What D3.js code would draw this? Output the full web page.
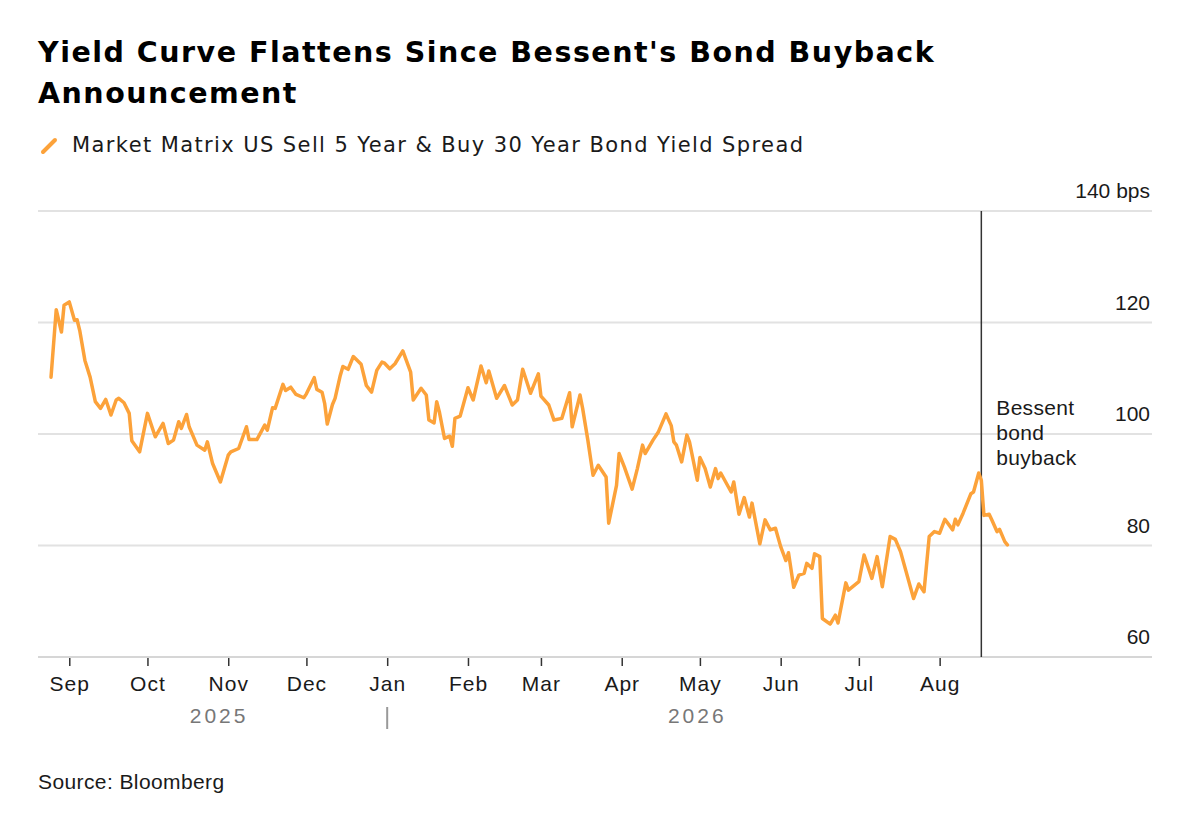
<!DOCTYPE html>
<html>
<head>
<meta charset="utf-8">
<script src="https://cdn.jsdelivr.net/npm/d3@7"></script>
<style>
  html, body { margin: 0; padding: 0; background: #fff; }
  #chart { width: 1200px; height: 818px; }
  text { font-family: "Liberation Sans", Arial, sans-serif; fill: #1a1a1a; }
</style>
</head>
<body>
<div id="chart"></div>
<script>
// Spread between 5y and 30y (bps)
const dates = [
  "2025-08-25","2025-08-27","2025-08-29","2025-08-30","2025-09-01","2025-09-03","2025-09-04","2025-09-05","2025-09-07","2025-09-09",
  "2025-09-11","2025-09-13","2025-09-15","2025-09-17","2025-09-19","2025-09-20","2025-09-22","2025-09-24","2025-09-25","2025-09-28",
  "2025-10-01","2025-10-04","2025-10-07","2025-10-09","2025-10-11","2025-10-13","2025-10-14","2025-10-16","2025-10-17","2025-10-20",
  "2025-10-23","2025-10-24","2025-10-26","2025-10-29",
  "2025-11-01","2025-11-02","2025-11-05","2025-11-08","2025-11-09","2025-11-12","2025-11-15","2025-11-16","2025-11-18","2025-11-19",
  "2025-11-22","2025-11-23","2025-11-25","2025-11-27","2025-11-30",
  "2025-12-01","2025-12-04","2025-12-05","2025-12-07","2025-12-08","2025-12-09","2025-12-11","2025-12-12","2025-12-14","2025-12-15",
  "2025-12-17","2025-12-19","2025-12-22","2025-12-24","2025-12-26","2025-12-28","2025-12-30","2025-12-31",
  "2026-01-02","2026-01-04","2026-01-07","2026-01-10","2026-01-11","2026-01-14","2026-01-16","2026-01-17","2026-01-19","2026-01-20",
  "2026-01-21","2026-01-23","2026-01-25","2026-01-26","2026-01-27","2026-01-29",
  "2026-02-01","2026-02-03","2026-02-06","2026-02-08","2026-02-09","2026-02-12","2026-02-15","2026-02-18","2026-02-20","2026-02-22",
  "2026-02-25","2026-02-28",
  "2026-03-01","2026-03-04","2026-03-06","2026-03-09","2026-03-12","2026-03-13","2026-03-16","2026-03-17","2026-03-19","2026-03-21",
  "2026-03-23","2026-03-26","2026-03-27","2026-03-30","2026-03-31",
  "2026-04-02","2026-04-05","2026-04-07","2026-04-09","2026-04-10","2026-04-13","2026-04-15","2026-04-18","2026-04-20","2026-04-21",
  "2026-04-22","2026-04-24","2026-04-26","2026-04-27","2026-04-30",
  "2026-05-01","2026-05-03","2026-05-05","2026-05-07","2026-05-08","2026-05-09","2026-05-13","2026-05-14","2026-05-16","2026-05-18",
  "2026-05-20","2026-05-21","2026-05-24","2026-05-26","2026-05-28","2026-05-30",
  "2026-06-01","2026-06-03","2026-06-04","2026-06-06","2026-06-08","2026-06-10","2026-06-11","2026-06-13","2026-06-14","2026-06-16",
  "2026-06-17","2026-06-20","2026-06-22","2026-06-23","2026-06-26","2026-06-27",
  "2026-07-01","2026-07-03","2026-07-06","2026-07-08","2026-07-10","2026-07-13","2026-07-15","2026-07-17","2026-07-22","2026-07-24",
  "2026-07-26","2026-07-28","2026-07-30",
  "2026-08-01","2026-08-03","2026-08-06","2026-08-07","2026-08-08","2026-08-10","2026-08-13","2026-08-14","2026-08-16","2026-08-17",
  "2026-08-18","2026-08-20","2026-08-21","2026-08-23","2026-08-24","2026-08-26","2026-08-27"
];

const spread = [
  110.2,122.3,118.3,123.1,123.7,120.4,120.5,118.6,113.2,110.2,
  105.8,104.6,106.2,103.4,106.1,106.4,105.6,103.7,98.8,96.8,
  103.7,99.5,101.9,98.3,98.9,102.2,101.0,103.5,101.3,98.0,
  97.1,98.6,94.7,91.4,
  96.2,96.8,97.4,101.3,99.0,99.0,101.6,100.7,104.7,104.6,
  108.9,107.8,108.4,107.1,106.5,
  107.2,110.1,108.0,107.5,105.5,101.8,105.3,106.4,110.5,112.1,
  111.6,113.9,112.5,108.7,107.5,111.4,112.9,112.7,
  111.7,112.6,114.9,111.1,106.1,108.2,107.0,102.5,102.0,105.8,
  104.0,99.2,99.6,97.8,102.8,103.2,
  108.3,106.1,112.2,109.2,111.3,106.4,108.7,105.2,106.1,111.6,
  107.3,110.8,
  106.8,105.2,102.5,102.8,107.4,101.3,107.0,104.6,98.9,92.6,
  94.4,92.3,84.0,90.8,96.5,
  94.1,90.1,93.8,98.0,96.5,98.9,100.3,103.6,101.5,98.6,
  98.0,95.0,99.8,98.6,91.7,
  95.8,93.8,90.5,93.8,92.0,93.0,89.6,91.4,85.6,88.6,
  85.1,87.6,80.3,84.6,82.8,83.1,
  79.8,77.3,78.7,72.5,74.7,75.0,76.8,75.9,78.5,78.0,
  66.9,65.9,67.5,66.1,73.3,72.0,
  73.5,78.3,74.1,78.0,72.6,81.6,81.1,78.9,70.5,73.1,
  71.7,81.6,82.5,
  82.2,84.7,82.8,84.7,83.7,85.8,89.3,89.6,93.0,91.7,
  85.4,85.6,84.6,82.5,82.9,80.7,80.1
];

const yTicks = [60, 80, 100, 120, 140];
const yearLabels = ["2025", "2026"];
const eventDate = "2026-08-17";
const eventLabel = ["Bessent", "bond", "buyback"];

const titleLines = ["Yield Curve Flattens Since Bessent's Bond Buyback", "Announcement"];
const legendLabel = "Market Matrix US Sell 5 Year & Buy 30 Year Bond Yield Spread";
const sourceLabel = "Source: Bloomberg";

const parse = d3.timeParse("%Y-%m-%d");
const data = dates.map((d, i) => ({ date: parse(d), value: spread[i] }));

const width = 1200, height = 818;
const orange = "#fca23a";

const svg = d3.select("#chart").append("svg")
  .attr("width", width)
  .attr("height", height);

const x = d3.scaleTime()
  .domain([parse("2025-08-20"), parse("2026-08-28")])
  .range([38, 1010]);

const y = d3.scaleLinear()
  .domain([60, 140])
  .range([657, 211]);

const gridRight = 1152;

// Title
svg.append("g").selectAll("text")
  .data(titleLines)
  .join("text")
  .attr("x", 38)
  .attr("y", (d, i) => 62 + i * 41)
  .style("font-family", "'DejaVu Sans', sans-serif")
  .style("font-size", "28.5px")
  .style("font-weight", "bold")
  .style("letter-spacing", "1.5px")
  .style("fill", "#000")
  .text(d => d);

// Legend
svg.append("line")
  .attr("x1", 43).attr("y1", 152)
  .attr("x2", 55).attr("y2", 140)
  .attr("stroke", orange)
  .attr("stroke-width", 4)
  .attr("stroke-linecap", "round");

svg.append("text")
  .attr("x", 72)
  .attr("y", 152)
  .style("font-family", "'DejaVu Sans', sans-serif")
  .style("font-size", "21px")
  .style("letter-spacing", "1.4px")
  .text(legendLabel);

// Gridlines + y labels
const grid = svg.append("g");
grid.selectAll("line")
  .data(yTicks)
  .join("line")
  .attr("x1", 38)
  .attr("x2", gridRight)
  .attr("y1", d => y(d))
  .attr("y2", d => y(d))
  .attr("stroke", d => d === 60 ? "#d6d6d6" : "#e2e2e2")
  .attr("stroke-width", 2);

grid.selectAll("text")
  .data(yTicks)
  .join("text")
  .attr("x", 1150)
  .attr("y", d => y(d) - 13)
  .attr("text-anchor", "end")
  .style("font-size", "21px")
  .text(d => d === 140 ? d + " bps" : d);

// X axis: month ticks
const xAxis = d3.axisBottom(x)
  .ticks(d3.timeMonth.every(1))
  .tickFormat(d3.timeFormat("%b"))
  .tickSize(8)
  .tickPadding(10);

const gx = svg.append("g")
  .attr("transform", `translate(0, ${y(60) + 1})`)
  .call(xAxis);

gx.select(".domain").remove();
gx.selectAll(".tick line").attr("stroke", "#333").attr("stroke-width", 1.5);
gx.selectAll(".tick text")
  .style("font-size", "21px")
  .style("letter-spacing", "1px")
  .style("fill", "#1a1a1a");

// Year labels, centred on each year's stretch of data
const jan1 = parse("2026-01-01");
const first = data[0].date, last = data[data.length - 1].date;
const yearSpans = [[first, jan1], [jan1, last]];

svg.append("g").selectAll("text")
  .data(yearLabels)
  .join("text")
  .attr("x", (d, i) => (x(yearSpans[i][0]) + x(yearSpans[i][1])) / 2)
  .attr("y", 723)
  .attr("text-anchor", "middle")
  .style("font-size", "21px")
  .style("letter-spacing", "3px")
  .style("fill", "#777")
  .text(d => d);

svg.append("line")
  .attr("x1", x(jan1)).attr("x2", x(jan1))
  .attr("y1", 707).attr("y2", 729)
  .attr("stroke", "#999")
  .attr("stroke-width", 2);

// Event marker
const ex = x(parse(eventDate));
svg.append("line")
  .attr("x1", ex).attr("x2", ex)
  .attr("y1", y(140)).attr("y2", y(60))
  .attr("stroke", "#333")
  .attr("stroke-width", 1.5);

svg.append("g").selectAll("text")
  .data(eventLabel)
  .join("text")
  .attr("x", ex + 15)
  .attr("y", (d, i) => 415 + i * 25)
  .style("font-size", "21px")
  .style("letter-spacing", "0.3px")
  .text(d => d);

// Spread line
const line = d3.line()
  .x(d => x(d.date))
  .y(d => y(d.value));

svg.append("path")
  .datum(data)
  .attr("fill", "none")
  .attr("stroke", orange)
  .attr("stroke-width", 3.5)
  .attr("stroke-linejoin", "round")
  .attr("stroke-linecap", "round")
  .attr("d", line);

// Source
svg.append("text")
  .attr("x", 38)
  .attr("y", 789)
  .style("font-size", "21px")
  .style("letter-spacing", "0.4px")
  .text(sourceLabel);
</script>
</body>
</html>
